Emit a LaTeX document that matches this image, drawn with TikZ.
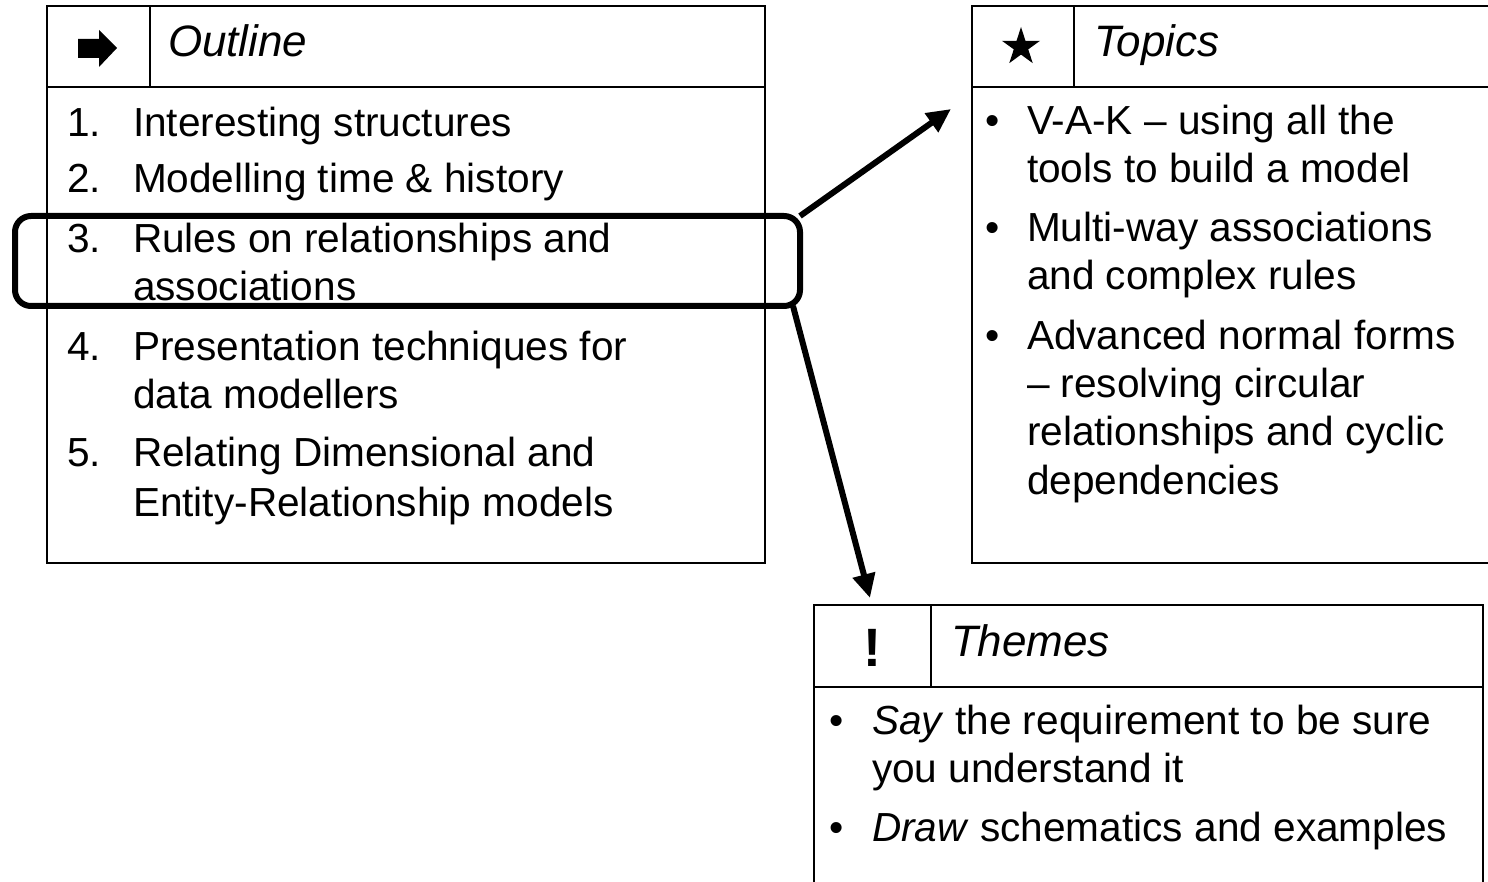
\documentclass[tikz,border=0pt]{standalone}
\usepackage{fontspec}
\setmainfont{Liberation Sans}
\usetikzlibrary{arrows.meta}
\tikzset{
  panel/.style={draw, line width=2pt, inner sep=0pt, outer sep=0pt, anchor=north west},
  rule/.style={line width=2pt},
  txt/.style={inner sep=0pt, outer sep=0pt, anchor=base west, font=\fontsize{40.6}{48}\selectfont},
  head/.style={txt, font=\fontsize{44}{52}\selectfont\itshape},
  hlbox/.style={draw, line width=6pt, rounded corners=16pt, inner sep=0pt, outer sep=0pt, anchor=north west},
  conn/.style={line width=6pt, -{Triangle[length=24pt,width=22pt]}},
}
\begin{document}
\begin{tikzpicture}[x=1pt,y=-1pt]
\clip (0,0) rectangle (1488,882);
\fill[white] (0,0) rectangle (1488,882);

% ---------- Outline panel ----------
\node[panel, minimum width=718pt, minimum height=557pt] (outline) at (47,6) {};
\draw[rule] (47,87) -- (765,87);
\draw[rule] (150,6) -- (150,87);
\fill (78,39) -- (99,39) -- (99,30) -- (117,48) -- (99,67) -- (99,58) -- (78,58) -- cycle;
\node[head] (outlineh) at (168,57) {Outline};

\node[txt] (n1) at (67,137) {1.};
\node[txt] (o1) at (133,137) {Interesting structures};
\node[txt] (n2) at (67,193) {2.};
\node[txt] (o2) at (133,193) {Modelling time \& history};
\node[txt] (n3) at (67,253) {3.};
\node[txt] (o3a) at (133,253) {Rules on relationships and};
\node[txt] (o3b) at (133,301) {associations};
\node[txt] (n4) at (67,360) {4.};
\node[txt] (o4a) at (133,360) {Presentation techniques for};
\node[txt] (o4b) at (133,408) {data modellers};
\node[txt] (n5) at (67,466) {5.};
\node[txt] (o5a) at (133,466) {Relating Dimensional and};
\node[txt] (o5b) at (133,516) {Entity-Relationship models};

% ---------- Topics panel ----------
\node[panel, minimum width=560pt, minimum height=557pt] (topics) at (972,6) {};
\draw[rule] (972,87) -- (1540,87);
\draw[rule] (1074,6) -- (1074,87);
\fill (1021,27) -- (1025.47,40.85) -- (1040.02,40.82) -- (1028.23,49.35) -- (1032.76,63.18)
  -- (1021,54.6) -- (1009.24,63.18) -- (1013.77,49.35) -- (1001.98,40.82) -- (1016.53,40.85) -- cycle;
\node[head] (topicsh) at (1094,57) {Topics};

\node[txt] (tb1) at (985,135) {•};
\node[txt] (t1a) at (1027,135) {V-A-K – using all the};
\node[txt] (t1b) at (1027,183) {tools to build a model};
\node[txt] (tb2) at (985,242) {•};
\node[txt] (t2a) at (1027,242) {Multi-way associations};
\node[txt] (t2b) at (1027,290) {and complex rules};
\node[txt] (tb3) at (985,349) {•};
\node[txt] (t3a) at (1027,349) {Advanced normal forms};
\node[txt] (t3b) at (1027,397) {– resolving circular};
\node[txt] (t3c) at (1027,445) {relationships and cyclic};
\node[txt] (t3d) at (1027,494) {dependencies};

% ---------- Themes panel ----------
\node[panel, minimum width=669pt, minimum height=320pt] (themes) at (814,605) {};
\draw[rule] (814,687) -- (1483,687);
\draw[rule] (931,605) -- (931,687);
\node[inner sep=0pt, anchor=base, font=\fontsize{54}{60}\selectfont\bfseries] (bang) at (872,666) {!};
\node[head] (themesh) at (951,656) {Themes};

\node[txt] (hb1) at (829,734) {•};
\node[txt] (h1a) at (872,734) {\textit{Say} the requirement to be sure};
\node[txt] (h1b) at (872,782) {you understand it};
\node[txt] (hb2) at (829,841) {•};
\node[txt] (h2a) at (872,841) {\textit{Draw} schematics and examples};

% ---------- highlight and connectors ----------
\node[hlbox, minimum width=785pt, minimum height=90pt] (hl) at (15,216) {};
\coordinate (e1) at (951,109);
\coordinate (e2) at (870,598);
\draw[conn] (hl.north east) -- (e1);
\draw[conn] ([xshift=-7pt]hl.south east) -- (e2);
\end{tikzpicture}
\end{document}
